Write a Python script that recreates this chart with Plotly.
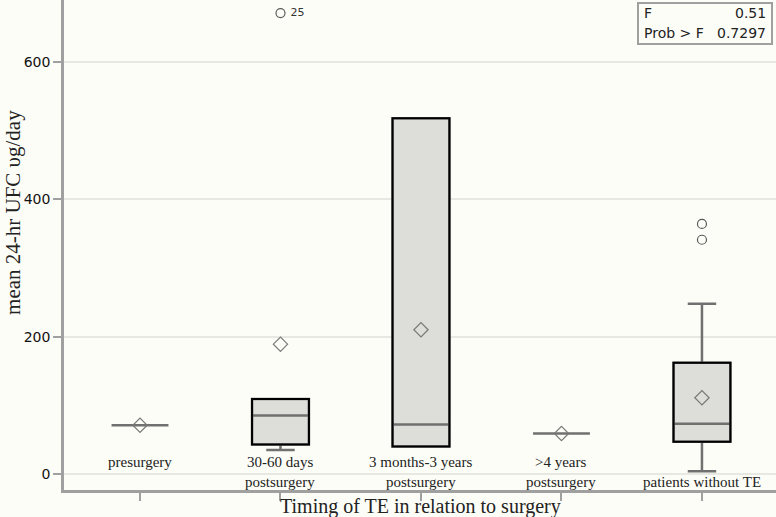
import plotly.graph_objects as go

# ---- data ----
categories = ["presurgery", "30-60 days postsurgery", "3 months-3 years postsurgery",
              ">4 years postsurgery", "patients without TE"]
label_line1 = ["presurgery", "30-60 days", "3 months-3 years", ">4 years", ""]
label_line2 = ["", "postsurgery", "postsurgery", "postsurgery", "patients without TE"]
q1 = [71, 43, 40, 59, 47]
median = [71, 85, 72, 59, 73]
q3 = [71, 109, 518, 59, 162]
lower_whisker = [71, 35, 40, 59, 4]
upper_whisker = [71, 109, 518, 59, 248]
means = [71, 189, 210, 59, 111]
outlier_group = [1, 4, 4]
outlier_values = [671, 364, 341]
outlier_labels = ["25", "", ""]
y_ticks = [0, 200, 400, 600]
f_stat = "0.51"
p_value = "0.7297"

BG = "rgb(253,253,247)"
GRID = "rgb(232,232,227)"
AXIS = "rgb(160,160,160)"
WHISK = "rgb(112,112,112)"
FILL = "rgb(221,221,217)"
BOXW = 0.405

xs = list(range(len(categories)))
fig = go.Figure()

fig.add_trace(go.Box(
    x=xs, q1=q1, median=median, q3=q3,
    lowerfence=lower_whisker, upperfence=upper_whisker,
    width=BOXW, whiskerwidth=0.5,
    fillcolor=FILL, line=dict(color=WHISK, width=2.5),
    boxpoints=False, showlegend=False, hoverinfo="skip",
))

# black outline for non-degenerate boxes
for i in xs:
    if q3[i] > q1[i]:
        fig.add_shape(type="rect", xref="x", yref="y",
                      x0=i - BOXW / 2, x1=i + BOXW / 2, y0=q1[i], y1=q3[i],
                      line=dict(color="black", width=2), fillcolor="rgba(0,0,0,0)",
                      layer="above")

# means
fig.add_trace(go.Scatter(
    x=xs, y=means, mode="markers",
    marker=dict(symbol="diamond-open", size=11, color="rgb(120,120,120)", line=dict(width=1.2)),
    showlegend=False, hoverinfo="skip"))

# outliers
fig.add_trace(go.Scatter(
    x=outlier_group, y=outlier_values, mode="markers+text",
    text=[" " + t if t else "" for t in outlier_labels], textposition="middle right",
    textfont=dict(family="DejaVu Sans", size=11, color="#333"),
    marker=dict(symbol="circle-open", size=9, color="rgb(90,90,90)", line=dict(width=1.2)),
    showlegend=False, hoverinfo="skip"))

# category labels inside plot area
for i in xs:
    if label_line1[i]:
        fig.add_annotation(x=i, y=17.5, xref="x", yref="y", text=label_line1[i],
                           showarrow=False, font=dict(family="Liberation Serif", size=15, color="#222"))
    if label_line2[i]:
        fig.add_annotation(x=i, y=-11.5, xref="x", yref="y", text=label_line2[i],
                           showarrow=False, font=dict(family="Liberation Serif", size=15, color="#222"))

# axis titles
fig.add_annotation(x=0.5, y=0, xref="paper", yref="paper", yshift=-16, yanchor="middle",
                   text="Timing of TE in relation to surgery", showarrow=False,
                   font=dict(family="Liberation Serif", size=20, color="#222"))
fig.add_annotation(x=0, y=380, xref="paper", yref="y", xshift=-51, xanchor="center",
                   yanchor="middle", textangle=-90,
                   text="mean 24-hr UFC \u03c5g/day", showarrow=False,
                   font=dict(family="Liberation Serif", size=21, color="#222"))

# stats box
fig.add_shape(type="rect", xref="paper", yref="paper",
              x0=(638 - 64) / 712, x1=(772 - 64) / 712, y0=1 - 44 / 490, y1=1 - 3 / 490,
              line=dict(color=AXIS, width=2), fillcolor=BG, layer="above")
for row, (lab, val) in enumerate([("F", f_stat), ("Prob > F", p_value)]):
    yy = 1 - (13 + 20 * row) / 490
    fig.add_annotation(x=(642 - 64) / 712, y=yy, xref="paper", yref="paper", xanchor="left",
                       yanchor="middle", text=lab, showarrow=False,
                       font=dict(family="DejaVu Sans", size=14, color="#222"))
    fig.add_annotation(x=(768 - 64) / 712, y=yy, xref="paper", yref="paper", xanchor="right",
                       yanchor="middle", text=val, showarrow=False,
                       font=dict(family="DejaVu Sans", size=14, color="#222"))

fig.update_layout(
    width=776, height=517,
    margin=dict(l=64, r=0, t=0, b=27),
    paper_bgcolor=BG, plot_bgcolor=BG,
    xaxis=dict(range=[-0.541, 4.527], tickvals=xs, showticklabels=False,
               ticks="outside", ticklen=8, tickwidth=2, tickcolor=AXIS,
               showline=True, linecolor=AXIS, linewidth=2.5, showgrid=False, zeroline=False),
    yaxis=dict(range=[-23.3, 690], tickvals=y_ticks, ticks="outside", ticklen=8, tickwidth=2,
               tickcolor=AXIS, showline=True, linecolor=AXIS, linewidth=2.5,
               showgrid=True, gridcolor=GRID, gridwidth=2, zeroline=False,
               tickfont=dict(family="DejaVu Sans", size=14, color="#111")),
)

fig.write_html("out.html", config={"displayModeBar": False},
               post_script="document.body.style.margin='0';document.body.style.overflow='hidden';")
